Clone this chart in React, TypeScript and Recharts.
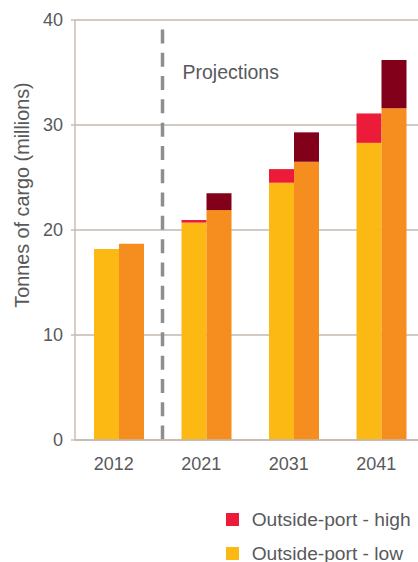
import React from "react";
import {
  BarChart,
  Bar,
  XAxis,
  YAxis,
  CartesianGrid,
  ReferenceLine,
} from "recharts";

// years on the x axis
const years = ["2012", "2021", "2031", "2041"];
// left bar of each pair (base + extra for the high case)
const outsideLow = [18.2, 20.7, 24.5, 28.3];
const outsideHighExtra = [0, 0.25, 1.3, 2.8];
// right bar of each pair
const insideLow = [18.7, 21.9, 26.5, 31.6];
const insideHighExtra = [0, 1.6, 2.8, 4.6];
const yTicks = [0, 10, 20, 30, 40];

const series = [
  { key: "outsideLow", name: "Outside-port - low", stack: "outside", color: "#FDB913" },
  { key: "outsideHigh", name: "Outside-port - high", stack: "outside", color: "#ED1B3A" },
  { key: "insideLow", name: "Inside-port - low", stack: "inside", color: "#F68E1F" },
  { key: "insideHigh", name: "Inside-port - high", stack: "inside", color: "#820019" },
];
const legendKeys = ["outsideHigh", "outsideLow"];

const data = years.map((year, i) => ({
  year,
  outsideLow: outsideLow[i],
  outsideHigh: outsideHighExtra[i],
  insideLow: insideLow[i],
  insideHigh: insideHighExtra[i],
}));

const textColor = "#58595B";
const gridColor = "#C5B9AF";
const font = "'Liberation Sans', Arial, sans-serif";

const ProjectionsLabel = (props: any) => {
  const vb = props.viewBox || {};
  return (
    <text x={(vb.x ?? 162) + 20} y={(vb.y ?? 30) + 50} fill={textColor} fontSize={19.5} fontFamily={font}>
      Projections
    </text>
  );
};

const YTitle = () => (
  <text
    x={28.5}
    y={195}
    transform="rotate(-90 28.5 195)"
    textAnchor="middle"
    fill={textColor}
    fontSize={19.8}
    fontFamily={font}
  >
    Tonnes of cargo (millions)
  </text>
);

export default function App() {
  return (
    <div
      style={{
        position: "absolute",
        left: 0,
        top: 0,
        width: 418,
        height: 562,
        overflow: "hidden",
        background: "#fff",
        fontFamily: font,
      }}
    >
      <BarChart
        width={430}
        height={562}
        data={data}
        margin={{ top: 20, right: 5, left: 0, bottom: 92 }}
        barGap={0}
        barSize={25}
      >
        <CartesianGrid vertical={false} stroke={gridColor} strokeWidth={1.4} />
        <XAxis
          dataKey="year"
          height={30}
          axisLine={{ stroke: gridColor, strokeWidth: 1.4 }}
          tickLine={false}
          tickSize={5}
          tickMargin={12}
          tick={{ fill: textColor, fontSize: 18, fontFamily: font, dx: -5 }}
        />
        <YAxis
          width={75}
          domain={[0, 40]}
          ticks={yTicks}
          axisLine={{ stroke: gridColor, strokeWidth: 1.4 }}
          tickLine={{ stroke: gridColor, strokeWidth: 1.4 }}
          tickSize={4}
          tickMargin={8}
          tick={{ fill: textColor, fontSize: 18, fontFamily: font }}
          label={<YTitle />}
        />
        <ReferenceLine
          segment={[
            { x: "2012", y: 39.1 },
            { x: "2012", y: 0 },
          ]}
          position="end"
          stroke="#8C8E90"
          strokeWidth={3.5}
          strokeDasharray="14 9.3"
          label={ProjectionsLabel}
        />
        {series.map((s) => (
          <Bar
            key={s.key}
            dataKey={s.key}
            name={s.name}
            stackId={s.stack}
            fill={s.color}
            isAnimationActive={false}
          />
        ))}
      </BarChart>
      <div style={{ position: "absolute", left: 226, top: 502.5 }}>
        {legendKeys.map((k) => {
          const s = series.find((x) => x.key === k)!;
          return (
            <div key={k} style={{ display: "flex", alignItems: "center", height: 34 }}>
              <span style={{ width: 13, height: 13, background: s.color, marginRight: 12.7 }} />
              <span style={{ fontSize: 19.2, color: textColor, whiteSpace: "nowrap" }}>{s.name}</span>
            </div>
          );
        })}
      </div>
    </div>
  );
}
